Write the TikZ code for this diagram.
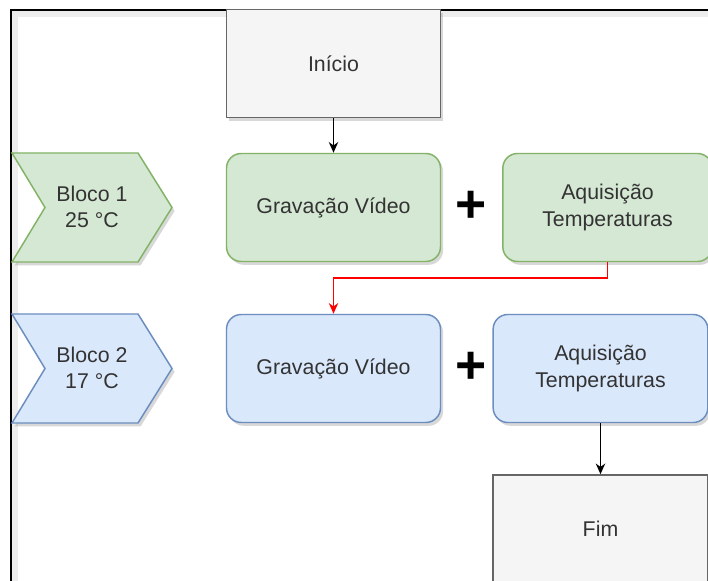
\documentclass[tikz,border=0pt]{standalone}
\usepackage{fontspec}
\setmainfont{Liberation Sans}
\usetikzlibrary{arrows.meta,shadows}

\definecolor{verdefill}{HTML}{D5E8D4}
\definecolor{verdeline}{HTML}{82B366}
\definecolor{azulfill}{HTML}{DAE8FC}
\definecolor{azulline}{HTML}{6C8EBF}
\definecolor{cinzafill}{HTML}{F5F5F5}
\definecolor{cinzaline}{HTML}{666666}
\definecolor{texto}{HTML}{333333}

\begin{document}
\begin{tikzpicture}[x=0.75pt, y=-0.75pt,
    every node/.style={font=\fontsize{16}{20}\selectfont, text=texto, align=center},
    sombra/.style={drop shadow={opacity=0.3, shadow xshift=2pt, shadow yshift=-2.5pt}},
    caixa/.style={draw, line width=1.1pt, minimum height=81pt, inner sep=0pt, sombra},
    inicio/.style={caixa, fill=cinzafill, draw=cinzaline, minimum width=160.5pt},
    verde/.style={caixa, fill=verdefill, draw=verdeline, rounded corners=11pt},
    azul/.style={caixa, fill=azulfill, draw=azulline, rounded corners=11pt},
    chevverde/.style={fill=verdefill, draw=verdeline, line width=1.1pt, sombra},
    chevazul/.style={fill=azulfill, draw=azulline, line width=1.1pt, sombra},
    mais/.style={font=\fontsize{40}{40}\selectfont\bfseries, text=black, inner sep=0pt},
    seta/.style={line width=1.1pt, -{Stealth[length=8pt, width=7pt, inset=2.5pt]}}]
    \useasboundingbox (0,0) rectangle (708,581);
    \clip (0,0) rectangle (708,581);

    % moldura
    \fill[white] (0,0) rectangle (708,581);
    \draw[black!7, line width=4pt] (15,600) -- (15,14) -- (730,14);
    \draw[line width=1.3pt] (11,600) -- (11,10) -- (730,10);

    % inicio
    \node[inicio] (inicio) at (333.5,63.5) {Início};

    % bloco 1
    \draw[chevverde] (12,153) -- (138,153) -- (172,207.5) -- (138,262) -- (12,262) -- (45,207.5) -- cycle;
    \node (bloco1) at (92,207) {Bloco 1\\25 °C};
    \node[verde, minimum width=160.5pt] (grav1) at (333.5,207.5) {Gravação Vídeo};
    \node[mais] (mais1) at (471,207) {+};
    \node[verde, minimum width=157pt] (aq1) at (607.5,207.5) {Aquisição\\Temperaturas};

    % bloco 2
    \draw[chevazul] (12,314) -- (138,314) -- (172,368.5) -- (138,423) -- (12,423) -- (45,368.5) -- cycle;
    \node (bloco2) at (92,368) {Bloco 2\\17 °C};
    \node[azul, minimum width=160.5pt] (grav2) at (333.5,368.5) {Gravação Vídeo};
    \node[mais] (mais2) at (471,368) {+};
    \node[azul, minimum width=161pt] (aq2) at (600.5,368.5) {Aquisição\\Temperaturas};

    % fim
    \node[inicio, minimum width=161pt] (fim) at (600.5,529) {Fim};

    % ligacoes
    \coordinate (volta) at (470,278);
    \draw[seta] (inicio) -- (grav1);
    \draw[seta, red] (aq1.south) |- (volta) -| (grav2.north);
    \draw[seta] (aq2) -- (fim);
\end{tikzpicture}
\end{document}
